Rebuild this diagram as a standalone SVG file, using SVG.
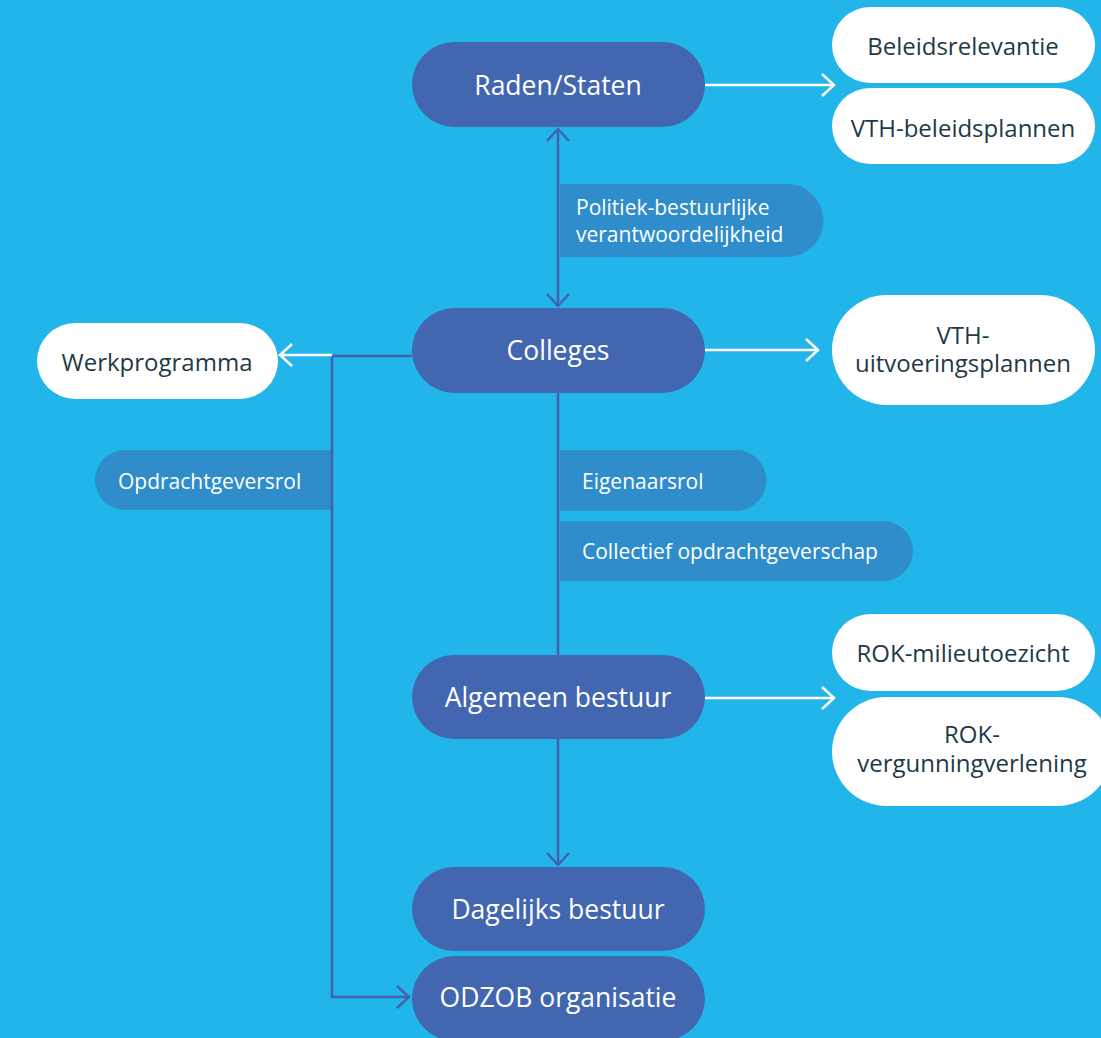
<svg xmlns="http://www.w3.org/2000/svg" width="1101" height="1038" viewBox="0 0 1101 1038">
<defs>
<style>
.bg{fill:#22b5e9}
.dark{fill:#4267b0}
.lbl{fill:#2f8dcb}
.wht{fill:#ffffff}
.tD{font-family:"Open Sans","Noto Sans",sans-serif;font-size:26.5px;fill:#ffffff;text-anchor:middle}
.tW{font-family:"Open Sans","Noto Sans",sans-serif;font-size:24px;fill:#1f3947;text-anchor:middle}
.tL{font-family:"Open Sans","Noto Sans",sans-serif;font-size:21px;fill:#ffffff}
.cw{stroke:#ffffff;stroke-width:2.5;fill:none}
.cd{stroke:#4461ae;stroke-width:2.5;fill:none}
</style>
<marker id="aw" markerUnits="userSpaceOnUse" markerWidth="16" markerHeight="26" viewBox="0 0 16 26" refX="14" refY="13" orient="auto-start-reverse">
<path d="M2,2 L14,13 L2,24" fill="none" stroke="#ffffff" stroke-width="2.5"/>
</marker>
<marker id="ad" markerUnits="userSpaceOnUse" markerWidth="16" markerHeight="26" viewBox="0 0 16 26" refX="14" refY="13" orient="auto-start-reverse">
<path d="M2,2 L14,13 L2,24" fill="none" stroke="#4461ae" stroke-width="2.5"/>
</marker>
</defs>
<rect class="bg" x="0" y="0" width="1101" height="1038"/>

<g id="labels">
<g id="lbl-politiek">
<path class="lbl" d="M560,184 H787 A36.5,36.5 0 0 1 787,257 H560 Z"/>
<text class="tL" x="576" y="215">Politiek-bestuurlijke</text>
<text class="tL" x="576" y="242">verantwoordelijkheid</text>
</g>
<g id="lbl-opdrachtgever">
<path class="lbl" d="M331,450 H125 A30,30 0 0 0 125,510 H331 Z"/>
<text class="tL" x="118" y="489">Opdrachtgeversrol</text>
</g>
<g id="lbl-eigenaar">
<path class="lbl" d="M560,450 H736 A30.5,30.5 0 0 1 736,511 H560 Z"/>
<text class="tL" x="582" y="489">Eigenaarsrol</text>
</g>
<g id="lbl-collectief">
<path class="lbl" d="M560,521 H883 A30,30 0 0 1 883,581 H560 Z"/>
<text class="tL" x="582" y="559">Collectief opdrachtgeverschap</text>
</g>
</g>

<g id="connectors">
<line class="cd" x1="558" y1="129" x2="558" y2="306" marker-start="url(#ad)" marker-end="url(#ad)"/>
<line class="cd" x1="558" y1="393" x2="558" y2="655"/>
<line class="cd" x1="558" y1="739" x2="558" y2="865" marker-end="url(#ad)"/>
<polyline class="cd" points="412,356 332,356 332,997 409,997" marker-end="url(#ad)"/>
<line class="cw" x1="332" y1="355" x2="280" y2="355" marker-end="url(#aw)"/>
<line class="cw" x1="705" y1="85" x2="834" y2="85" marker-end="url(#aw)"/>
<line class="cw" x1="705" y1="350" x2="818" y2="350" marker-end="url(#aw)"/>
<line class="cw" x1="705" y1="698" x2="834" y2="698" marker-end="url(#aw)"/>
</g>

<g id="raden">
<rect class="dark" x="412" y="42" width="293" height="85" rx="42.5"/>
<text class="tD" x="558" y="95">Raden/Staten</text>
</g>
<g id="colleges">
<rect class="dark" x="412" y="308" width="293" height="85" rx="42.5"/>
<text class="tD" x="558" y="360">Colleges</text>
</g>
<g id="algemeen">
<rect class="dark" x="412" y="655" width="293" height="84" rx="42"/>
<text class="tD" x="558" y="707">Algemeen bestuur</text>
</g>
<g id="dagelijks">
<rect class="dark" x="412" y="867" width="293" height="84" rx="42"/>
<text class="tD" x="558" y="919">Dagelijks bestuur</text>
</g>
<g id="odzob">
<rect class="dark" x="412" y="956" width="293" height="85" rx="42.5"/>
<text class="tD" x="558" y="1007">ODZOB organisatie</text>
</g>

<g id="beleidsrelevantie">
<rect class="wht" x="832" y="7" width="263" height="76" rx="38"/>
<text class="tW" x="963" y="55">Beleidsrelevantie</text>
</g>
<g id="vth-beleid">
<rect class="wht" x="832" y="88" width="263" height="76" rx="38"/>
<text class="tW" x="963" y="137">VTH-beleidsplannen</text>
</g>
<g id="werkprogramma">
<rect class="wht" x="37" y="323" width="241" height="76" rx="38"/>
<text class="tW" x="157" y="371">Werkprogramma</text>
</g>
<g id="vth-uitvoering">
<rect class="wht" x="832" y="295" width="263" height="110" rx="55"/>
<text class="tW" x="963" y="344">VTH-</text>
<text class="tW" x="963" y="372">uitvoeringsplannen</text>
</g>
<g id="rok-milieu">
<rect class="wht" x="832" y="614" width="263" height="77" rx="38.5"/>
<text class="tW" x="963" y="662">ROK-milieutoezicht</text>
</g>
<g id="rok-vergunning">
<rect class="wht" x="832" y="697" width="280" height="109" rx="54.5"/>
<text class="tW" x="972" y="743">ROK-</text>
<text class="tW" x="972" y="772">vergunningverlening</text>
</g>
</svg>
